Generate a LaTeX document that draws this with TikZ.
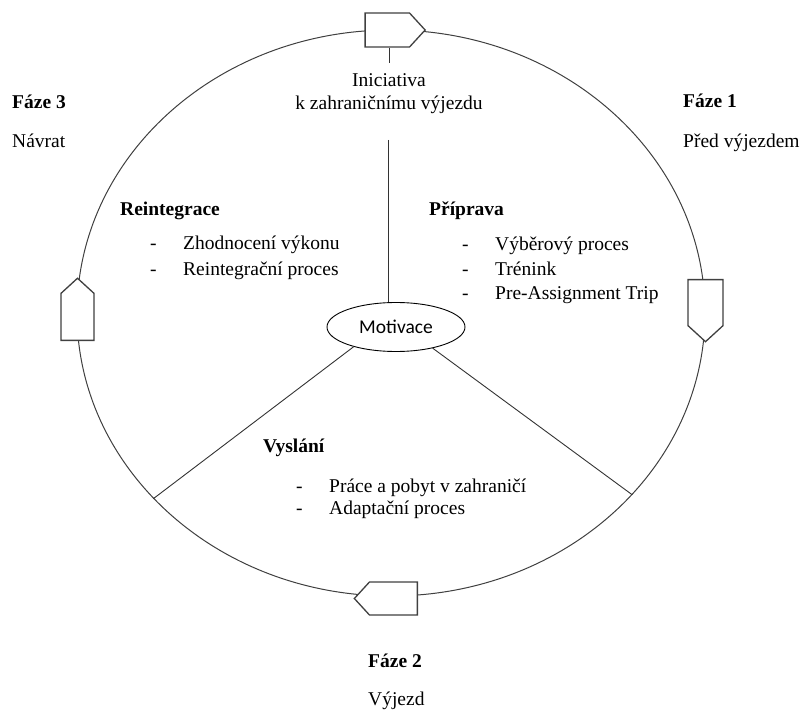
\documentclass[tikz,border=0pt]{standalone}
\usepackage{fontspec}
\setmainfont{Liberation Serif}
\newfontfamily\calibrifont{Carlito}
\usetikzlibrary{positioning,shapes.geometric,shapes.symbols}
\newcommand{\txtsize}{\fontsize{19.5}{24}\selectfont}
\tikzset{
ring/.style={
  ellipse, draw=black!75, line width=1pt, inner sep=0pt,
  minimum width=628pt, minimum height=566pt
  },
motiv/.style={
  ellipse, draw=black, line width=0.9pt, inner sep=0pt, fill=white,
  minimum width=138pt, minimum height=49pt,
  font=\calibrifont\fontsize{19.5}{23}\selectfont
  },
marker/.style={
  signal, signal to=#1, signal pointer angle=95,
  draw=black!75, line width=1.3pt, fill=white, inner sep=0pt
  },
phase/.style={
  anchor=base west, inner sep=0pt, font=\txtsize\bfseries
  },
label/.style={
  anchor=base west, inner sep=0pt, font=\txtsize
  },
spoke/.style={
  draw=black!80, line width=0.9pt
  }
}
\newcommand{\bul}[1]{\makebox[33pt][l]{-}#1}

\begin{document}
\begin{tikzpicture}[x=1pt,y=-1pt,font=\txtsize]
\useasboundingbox (0,0) rectangle (803,711);

% cycle
\node[ring] (ring) at (391,313) {};

\node[marker=east, anchor=east, minimum width=60pt, minimum height=34pt] (sigtop) at (426,30) {};
\node[marker=south, anchor=north, minimum width=35pt, minimum height=46pt] (sigright) at (705.5,279) {};
\node[marker=west, anchor=east, minimum width=63pt, minimum height=33pt] (sigbottom) at (418,598.5) {};
\node[marker=north, anchor=south, minimum width=33pt, minimum height=47pt] (sigleft) at (77.5,341) {};

% centre
\node[motiv] (motiv) at (396,327) {Motivace};

\node[anchor=base, inner sep=0pt] (init1) at (389,87) {Iniciativa};
\node[anchor=base, inner sep=0pt] (init2) at (389,110) {k zahraničnímu výjezdu};

\coordinate (stub) at (389,63);
\coordinate (initend) at (388,140);

\draw[spoke] (stub |- sigtop.south) -- (stub);
\draw[spoke] (initend) -- (initend |- motiv.north);
\draw[spoke] (motiv.205) -- (ring.218);
\draw[spoke] (motiv.330) -- (ring.323);

% phases

\node[phase] (faze3) at (12,109) {Fáze 3};
\node[label] (navrat) at (12,148) {Návrat};

\node[phase] (faze1) at (683,108) {Fáze 1};
\node[label] (pred) at (683,148) {Před výjezdem};

\node[phase] (faze2) at (368,667) {Fáze 2};
\node[label] (vyjezd) at (368,705) {Výjezd};

% stages

\node[phase] (reint) at (120,216) {Reintegrace};
\node[label] (reint1) at (150,250) {\bul{Zhodnocení výkonu}};
\node[label] (reint2) at (150,276) {\bul{Reintegrační proces}};

\node[phase] (prip) at (429,216) {Příprava};
\node[label] (prip1) at (462,251) {\bul{Výběrový proces}};
\node[label] (prip2) at (462,276) {\bul{Trénink}};
\node[label] (prip3) at (462,300) {\bul{Pre-Assignment Trip}};

\node[phase] (vysl) at (263,452) {Vyslání};
\node[label] (vysl1) at (296,492) {\bul{Práce a pobyt v zahraničí}};
\node[label] (vysl2) at (296,514) {\bul{Adaptační proces}};

\end{tikzpicture}
\end{document}
